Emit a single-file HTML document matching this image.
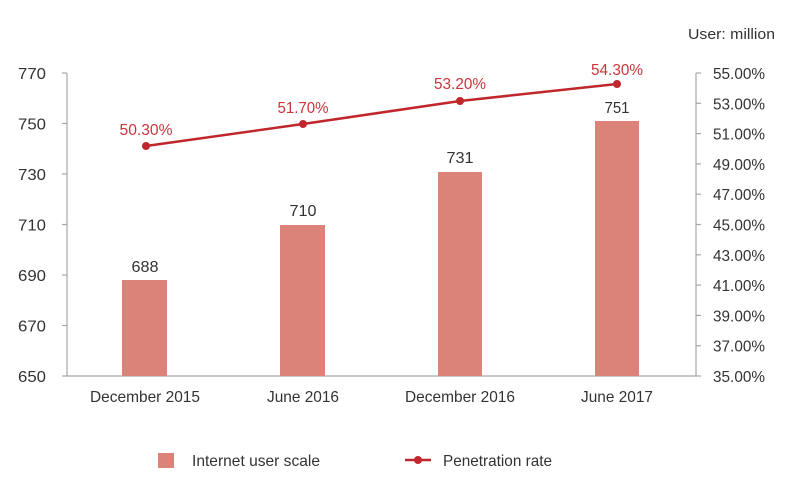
<!DOCTYPE html>
<html><head><meta charset="utf-8"><style>
html,body{margin:0;padding:0;background:#fff;}
svg text{font-family:"Liberation Sans Narrow","Liberation Sans",sans-serif;}
</style></head><body>
<svg width="800" height="491" viewBox="0 0 800 491" xmlns="http://www.w3.org/2000/svg">
<g stroke="#a6a6a6" stroke-width="1.2" fill="none">
<line x1="67" y1="73" x2="67" y2="376"/>
<line x1="62" y1="376" x2="696" y2="376"/>
<line x1="696" y1="73" x2="696" y2="376"/>
<line x1="62" y1="73" x2="67" y2="73"/><line x1="62" y1="123.5" x2="67" y2="123.5"/>
<line x1="62" y1="174" x2="67" y2="174"/><line x1="62" y1="224.5" x2="67" y2="224.5"/>
<line x1="62" y1="275" x2="67" y2="275"/><line x1="62" y1="325.5" x2="67" y2="325.5"/>
<line x1="696" y1="73" x2="701" y2="73"/><line x1="696" y1="103.3" x2="701" y2="103.3"/>
<line x1="696" y1="133.6" x2="701" y2="133.6"/><line x1="696" y1="163.9" x2="701" y2="163.9"/>
<line x1="696" y1="194.2" x2="701" y2="194.2"/><line x1="696" y1="224.5" x2="701" y2="224.5"/>
<line x1="696" y1="254.8" x2="701" y2="254.8"/><line x1="696" y1="285.1" x2="701" y2="285.1"/>
<line x1="696" y1="315.4" x2="701" y2="315.4"/><line x1="696" y1="345.7" x2="701" y2="345.7"/>
<line x1="696" y1="376" x2="701" y2="376"/>
</g>
<g font-size="16" fill="#333" text-anchor="end" lengthAdjust="spacingAndGlyphs">
<text x="46" y="79" textLength="28" lengthAdjust="spacingAndGlyphs">770</text>
<text x="46" y="129.5" textLength="28" lengthAdjust="spacingAndGlyphs">750</text>
<text x="46" y="180" textLength="28" lengthAdjust="spacingAndGlyphs">730</text>
<text x="46" y="230.5" textLength="28" lengthAdjust="spacingAndGlyphs">710</text>
<text x="46" y="281" textLength="28" lengthAdjust="spacingAndGlyphs">690</text>
<text x="46" y="331.5" textLength="28" lengthAdjust="spacingAndGlyphs">670</text>
<text x="46" y="382" textLength="28" lengthAdjust="spacingAndGlyphs">650</text>
</g>
<g font-size="16" fill="#333" text-anchor="start">
<text x="713" y="79" textLength="52" lengthAdjust="spacingAndGlyphs">55.00%</text>
<text x="713" y="109.3" textLength="52" lengthAdjust="spacingAndGlyphs">53.00%</text>
<text x="713" y="139.6" textLength="52" lengthAdjust="spacingAndGlyphs">51.00%</text>
<text x="713" y="169.9" textLength="52" lengthAdjust="spacingAndGlyphs">49.00%</text>
<text x="713" y="200.2" textLength="52" lengthAdjust="spacingAndGlyphs">47.00%</text>
<text x="713" y="230.5" textLength="52" lengthAdjust="spacingAndGlyphs">45.00%</text>
<text x="713" y="260.8" textLength="52" lengthAdjust="spacingAndGlyphs">43.00%</text>
<text x="713" y="291.1" textLength="52" lengthAdjust="spacingAndGlyphs">41.00%</text>
<text x="713" y="321.4" textLength="52" lengthAdjust="spacingAndGlyphs">39.00%</text>
<text x="713" y="351.7" textLength="52" lengthAdjust="spacingAndGlyphs">37.00%</text>
<text x="713" y="382" textLength="52" lengthAdjust="spacingAndGlyphs">35.00%</text>
<text x="688" y="39" font-size="15" textLength="87" lengthAdjust="spacingAndGlyphs">User: million</text>
</g>
<g fill="#db8379">
<rect x="122" y="280" width="45" height="96"/>
<rect x="280" y="225" width="45" height="151"/>
<rect x="438" y="172" width="44" height="204"/>
<rect x="595" y="121" width="44" height="255"/>
</g>
<g font-size="16" fill="#333" text-anchor="middle">
<text x="145" y="272" textLength="27" lengthAdjust="spacingAndGlyphs">688</text>
<text x="303" y="216" textLength="27" lengthAdjust="spacingAndGlyphs">710</text>
<text x="460" y="163" textLength="27" lengthAdjust="spacingAndGlyphs">731</text>
<text x="617" y="113" textLength="25" lengthAdjust="spacingAndGlyphs">751</text>
<text x="145" y="402" textLength="110" lengthAdjust="spacingAndGlyphs">December 2015</text>
<text x="303" y="402" textLength="72" lengthAdjust="spacingAndGlyphs">June 2016</text>
<text x="460" y="402" textLength="110" lengthAdjust="spacingAndGlyphs">December 2016</text>
<text x="617" y="402" textLength="72" lengthAdjust="spacingAndGlyphs">June 2017</text>
</g>
<polyline points="146,146 303,124 460,101 617,84" fill="none" stroke="#c0272d" stroke-width="2.5"/>
<g fill="#c0272d">
<circle cx="146" cy="146" r="4"/><circle cx="303" cy="124" r="4"/><circle cx="460" cy="101" r="4"/><circle cx="617" cy="84" r="4"/>
</g>
<g font-size="16" fill="#c8353b" text-anchor="middle">
<text x="146" y="135" textLength="53" lengthAdjust="spacingAndGlyphs">50.30%</text>
<text x="303" y="113" textLength="51" lengthAdjust="spacingAndGlyphs">51.70%</text>
<text x="460" y="89" textLength="52" lengthAdjust="spacingAndGlyphs">53.20%</text>
<text x="617" y="75" textLength="52" lengthAdjust="spacingAndGlyphs">54.30%</text>
</g>
<rect x="158" y="453" width="16" height="15" fill="#db8379"/>
<text x="192" y="466" font-size="16" fill="#333" textLength="128" lengthAdjust="spacingAndGlyphs">Internet user scale</text>
<line x1="405" y1="460" x2="431" y2="460" stroke="#c0272d" stroke-width="2.5"/>
<circle cx="418" cy="460" r="4" fill="#c0272d"/>
<text x="443" y="466" font-size="16" fill="#333" textLength="109" lengthAdjust="spacingAndGlyphs">Penetration rate</text>
</svg>
</body></html>
